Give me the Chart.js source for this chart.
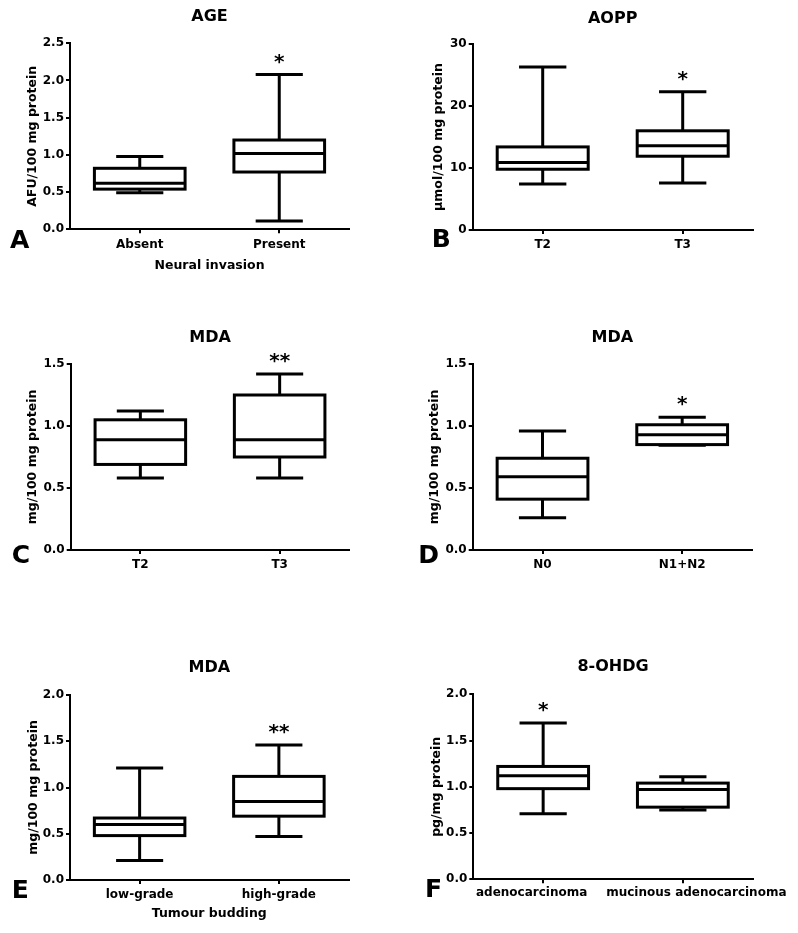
<!DOCTYPE html>
<html><head><meta charset="utf-8">
<script src="https://cdn.jsdelivr.net/npm/chart.js@4.4.1/dist/chart.umd.min.js"></script>
<style>
html,body{margin:0;padding:0;background:#fff;}
#wrap{position:relative;width:798px;height:933px;overflow:hidden;}
canvas{position:absolute;}
</style></head><body><div id="wrap">
<canvas id="cA" width="400" height="290" style="left:0;top:0"></canvas>
<canvas id="cB" width="398" height="290" style="left:400px;top:0"></canvas>
<canvas id="cC" width="400" height="300" style="left:0;top:290px"></canvas>
<canvas id="cD" width="398" height="300" style="left:400px;top:290px"></canvas>
<canvas id="cE" width="400" height="343" style="left:0;top:590px"></canvas>
<canvas id="cF" width="398" height="343" style="left:400px;top:590px"></canvas>
</div>
<script>
// ---------- DATA ----------
// Panel A: AGE vs neural invasion
const catA = ['Absent', 'Present'];
const minA = [0.49, 0.11];
const q1A  = [0.54, 0.77];
const medA = [0.62, 1.02];
const q3A  = [0.82, 1.20];
const maxA = [0.98, 2.08];
const sigA = ['', '*'];
const yTicksA = [0, 0.5, 1.0, 1.5, 2.0, 2.5];

// Panel B: AOPP vs T stage
const catB = ['T2', 'T3'];
const minB = [7.4, 7.6];
const q1B  = [9.8, 11.9];
const medB = [10.9, 13.6];
const q3B  = [13.4, 16.0];
const maxB = [26.3, 22.3];
const sigB = ['', '*'];
const yTicksB = [0, 10, 20, 30];

// Panel C: MDA vs T stage
const catC = ['T2', 'T3'];
const minC = [0.58, 0.58];
const q1C  = [0.69, 0.75];
const medC = [0.89, 0.89];
const q3C  = [1.05, 1.25];
const maxC = [1.12, 1.42];
const sigC = ['', '**'];
const yTicksC = [0, 0.5, 1.0, 1.5];

// Panel D: MDA vs N stage
const catD = ['N0', 'N1+N2'];
const minD = [0.26, 0.845];
const q1D  = [0.41, 0.85];
const medD = [0.59, 0.93];
const q3D  = [0.74, 1.01];
const maxD = [0.96, 1.07];
const sigD = ['', '*'];
const yTicksD = [0, 0.5, 1.0, 1.5];

// Panel E: MDA vs tumour budding
const catE = ['low-grade', 'high-grade'];
const minE = [0.21, 0.47];
const q1E  = [0.48, 0.69];
const medE = [0.60, 0.85];
const q3E  = [0.67, 1.12];
const maxE = [1.21, 1.46];
const sigE = ['', '**'];
const yTicksE = [0, 0.5, 1.0, 1.5, 2.0];

// Panel F: 8-OHDG vs histology
const catF = ['adenocarcinoma', 'mucinous adenocarcinoma'];
const minF = [0.71, 0.75];
const q1F  = [0.98, 0.78];
const medF = [1.12, 0.97];
const q3F  = [1.22, 1.04];
const maxF = [1.69, 1.11];
const sigF = ['*', ''];
const yTicksF = [0, 0.5, 1.0, 1.5, 2.0];

// ---------- RENDERING ----------
const FONT = '"DejaVu Sans", "Liberation Sans", sans-serif';
const TITLE_SIZE = 16, AXT_SIZE = 12.5, TICK_SIZE = 12;

function boxPlugin(p) {
  return {
    id: 'boxwhisker',
    afterDatasetsDraw(chart) {
      const c = chart.ctx, ys = chart.scales.y, xs = chart.scales.x;
      const meta = chart.getDatasetMeta(0);
      c.save();
      c.strokeStyle = '#000';
      c.fillStyle = '#000';
      c.lineWidth = 3;
      c.lineCap = 'butt';
      const line = (x1, y1, x2, y2) => { c.beginPath(); c.moveTo(x1, y1); c.lineTo(x2, y2); c.stroke(); };
      meta.data.forEach((bar, i) => {
        const x = bar.x, w = bar.width;
        const pMin = ys.getPixelForValue(p.min[i]);
        const pQ1 = ys.getPixelForValue(p.q1[i]);
        const pMed = ys.getPixelForValue(p.med[i]);
        const pQ3 = ys.getPixelForValue(p.q3[i]);
        const pMax = ys.getPixelForValue(p.max[i]);
        const cw = w * 0.52;
        line(x, pQ3, x, pMax);
        line(x, pQ1, x, pMin);
        line(x - cw / 2, pMax, x + cw / 2, pMax);
        line(x - cw / 2, pMin, x + cw / 2, pMin);
        c.fillStyle = '#fff';
        c.fillRect(x - w / 2, pQ3, w, pQ1 - pQ3);
        c.fillStyle = '#000';
        c.strokeRect(x - w / 2, pQ3, w, pQ1 - pQ3);
        line(x - w / 2, pMed, x + w / 2, pMed);
        if (p.sig[i]) {
          c.font = 'bold 20px ' + FONT;
          c.textAlign = 'center';
          c.textBaseline = 'alphabetic';
          c.fillText(p.sig[i], x, pMax - 7);
        }
      });
      // category labels nudged apart (only where the original spreads them)
      if (p.labelShift) {
        c.font = 'bold ' + TICK_SIZE + 'px ' + FONT;
        c.textAlign = 'center';
        c.textBaseline = 'top';
        p.cats.forEach((lab, i) => {
          const x = xs.getPixelForValue(i) + p.labelShift[i];
          c.fillText(lab, x, chart.chartArea.bottom + 8);
        });
      }
      c.font = 'bold 25px ' + FONT;
      c.textAlign = 'left';
      c.textBaseline = 'alphabetic';
      c.fillText(p.letter, p.lx, p.ly);
      c.restore();
    }
  };
}

function makePanel(id, p) {
  const cv = document.getElementById(id);
  const W = cv.width, H = cv.height;
  const titleLH = TITLE_SIZE * 1.2, axLH = AXT_SIZE * 1.2;
  const xH = p.xTitle ? (p.xTC - p.B + axLH / 2) : 30;
  const tickFont = { family: FONT, size: TICK_SIZE, weight: 'bold' };
  const axFont = { family: FONT, size: AXT_SIZE, weight: 'bold' };
  new Chart(cv, {
    type: 'bar',
    data: {
      labels: p.cats,
      datasets: [{
        data: p.q1.map((v, i) => [v, p.q3[i]]),
        backgroundColor: '#fff',
        borderWidth: 0,
        barPercentage: 0.65,
        categoryPercentage: 1
      }]
    },
    options: {
      responsive: false,
      animation: false,
      events: [],
      layout: { padding: { left: 0, top: 0, right: W - p.R, bottom: H - p.B - xH } },
      plugins: {
        legend: { display: false },
        tooltip: { enabled: false },
        title: {
          display: true, text: p.title, color: '#000', fullSize: false,
          font: { family: FONT, size: TITLE_SIZE, weight: 'bold' },
          padding: { top: p.tC - titleLH / 2, bottom: p.T - p.tC - titleLH / 2 }
        }
      },
      scales: {
        x: {
          offset: true,
          grid: { display: true, drawOnChartArea: false, offset: false, drawTicks: true, tickLength: 4, color: '#000', lineWidth: 2 },
          border: { display: true, color: '#000', width: 2 },
          ticks: { display: !p.labelShift, color: '#000', font: tickFont, padding: 4, maxRotation: 0, autoSkip: false },
          title: { display: !!p.xTitle, text: p.xTitle || '', color: '#000', font: axFont, padding: 0 },
          afterFit: s => { s.height = xH; }
        },
        y: {
          min: p.yTicks[0], max: p.yTicks[p.yTicks.length - 1],
          afterBuildTicks: s => { s.ticks = p.yTicks.map(v => ({ value: v })); },
          grid: { display: true, drawOnChartArea: false, drawTicks: true, tickLength: 4, color: '#000', lineWidth: 2 },
          border: { display: true, color: '#000', width: 2 },
          ticks: { color: '#000', font: tickFont, padding: 2, callback: v => Number(v).toFixed(p.dec) },
          title: { display: true, text: p.yTitle, color: '#000', font: axFont, padding: { top: p.yTC - axLH / 2, bottom: 0 } },
          afterFit: s => { s.width = p.L; }
        }
      }
    },
    plugins: [boxPlugin(p)]
  });
}

makePanel('cA', { cats: catA, min: minA, q1: q1A, med: medA, q3: q3A, max: maxA, sig: sigA, yTicks: yTicksA, dec: 1,
  title: 'AGE', yTitle: 'AFU/100 mg protein', xTitle: 'Neural invasion', xTC: 265.5,
  L: 70, R: 349, T: 43.3, B: 229.3, tC: 17, yTC: 32.8, letter: 'A', lx: 10, ly: 248 });
makePanel('cB', { cats: catB, min: minB, q1: q1B, med: medB, q3: q3B, max: maxB, sig: sigB, yTicks: yTicksB, dec: 0,
  title: 'AOPP', yTitle: '\u00b5mol/100 mg protein',
  L: 72.7, R: 352.7, T: 44, B: 230, tC: 19, yTC: 38.3, letter: 'B', lx: 31.7, ly: 246.7 });
makePanel('cC', { cats: catC, min: minC, q1: q1C, med: medC, q3: q3C, max: maxC, sig: sigC, yTicks: yTicksC, dec: 1,
  title: 'MDA', yTitle: 'mg/100 mg protein',
  L: 70.7, R: 349.3, T: 74, B: 260, tC: 48, yTC: 32.8, letter: 'C', lx: 11.7, ly: 273 });
makePanel('cD', { cats: catD, min: minD, q1: q1D, med: medD, q3: q3D, max: maxD, sig: sigD, yTicks: yTicksD, dec: 1,
  title: 'MDA', yTitle: 'mg/100 mg protein',
  L: 72.7, R: 352, T: 74, B: 260, tC: 48, yTC: 34.3, letter: 'D', lx: 18.3, ly: 273 });
makePanel('cE', { cats: catE, min: minE, q1: q1E, med: medE, q3: q3E, max: maxE, sig: sigE, yTicks: yTicksE, dec: 1,
  title: 'MDA', yTitle: 'mg/100 mg protein', xTitle: 'Tumour budding', xTC: 323.3,
  L: 70, R: 348.5, T: 105, B: 290, tC: 78, yTC: 33.3, letter: 'E', lx: 11.7, ly: 308 });
makePanel('cF', { cats: catF, min: minF, q1: q1F, med: medF, q3: q3F, max: maxF, sig: sigF, yTicks: yTicksF, dec: 1,
  title: '8-OHDG', yTitle: 'pg/mg protein', labelShift: [-11.5, 13.5],
  L: 73.3, R: 352.7, T: 104.3, B: 289.3, tC: 77, yTC: 36.7, letter: 'F', lx: 25, ly: 307 });
</script>
</body></html>
